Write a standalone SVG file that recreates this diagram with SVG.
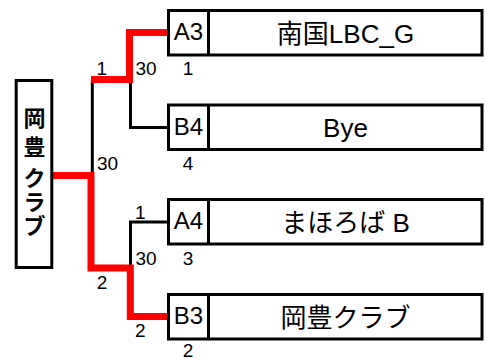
<svg xmlns="http://www.w3.org/2000/svg" width="486" height="360" viewBox="0 0 486 360">
<style>
.box{fill:#fff;stroke:#000;stroke-width:3}
.div{stroke:#000;stroke-width:3}
.seed{font-family:"Liberation Sans","Noto Sans CJK JP",sans-serif;font-size:24px;text-anchor:middle;fill:#000}
.name{font-family:"Liberation Sans","Noto Sans CJK JP",sans-serif;font-size:26px;text-anchor:middle;fill:#000}
.lbl{font-family:"Liberation Sans",sans-serif;font-size:19px;text-anchor:middle;fill:#000}
.win{font-family:"Noto Sans CJK JP",sans-serif;font-size:22px;font-weight:bold;text-anchor:middle;fill:#000}
.blk{fill:none;stroke:#000;stroke-width:3}
.red{fill:none;stroke:#f00;stroke-width:7;stroke-linejoin:miter}
</style>
<rect width="486" height="360" fill="#fff"/>
<g id="connectors">
<path class="blk" d="M92.3,79.5 V175.5"/>
<path class="blk" d="M130.5,79.5 V127.5 H168"/>
<path class="blk" d="M168,222 H130.5 V268"/>
<path class="red" d="M168,32.5 H129.5 V79.5 H91"/>
<path class="red" d="M53,175.5 H91 V268 H130.3 V316.5 H168"/>
</g>
<g id="winner">
<rect class="box" x="16.2" y="80.5" width="35.6" height="187"/>
<text class="win"><tspan x="34.5" y="125.5">岡</tspan><tspan x="34.5" y="155">豊</tspan><tspan x="34.5" y="185.5">ク</tspan><tspan x="34.5" y="209.5">ラ</tspan><tspan x="34.5" y="234">ブ</tspan></text>
</g>
<g id="team-a3">
<rect class="box" x="168.5" y="10.5" width="313.5" height="44.5"/>
<line class="div" x1="208.5" y1="10.5" x2="208.5" y2="55"/>
<text class="seed" x="188.5" y="40.3">A3</text>
<text class="name" x="345.5" y="42.8">南国LBC_G</text>
</g>
<g id="team-b4">
<rect class="box" x="168.5" y="105" width="313.5" height="44.5"/>
<line class="div" x1="208.5" y1="105" x2="208.5" y2="149.5"/>
<text class="seed" x="188.5" y="134.8">B4</text>
<text class="name" x="345.5" y="137.2">Bye</text>
</g>
<g id="team-a4">
<rect class="box" x="168.5" y="199.5" width="313.5" height="44.5"/>
<line class="div" x1="208.5" y1="199.5" x2="208.5" y2="244"/>
<text class="seed" x="188.5" y="229.3">A4</text>
<text class="name" x="345.5" y="231.7">まほろば B</text>
</g>
<g id="team-b3">
<rect class="box" x="168.5" y="294.5" width="313.5" height="44.5"/>
<line class="div" x1="208.5" y1="294.5" x2="208.5" y2="339"/>
<text class="seed" x="188.5" y="324.3">B3</text>
<text class="name" x="345.5" y="326.7">岡豊クラブ</text>
</g>
<g id="labels">
<text class="lbl" x="101.7" y="75">1</text>
<text class="lbl" x="146" y="75">30</text>
<text class="lbl" x="188" y="75">1</text>
<text class="lbl" x="107.5" y="170">30</text>
<text class="lbl" x="188" y="170">4</text>
<text class="lbl" x="140.3" y="219.3">1</text>
<text class="lbl" x="146" y="265">30</text>
<text class="lbl" x="188" y="265">3</text>
<text class="lbl" x="102" y="289.3">2</text>
<text class="lbl" x="140.3" y="337.3">2</text>
<text class="lbl" x="188" y="357">2</text>
</g>
</svg>
